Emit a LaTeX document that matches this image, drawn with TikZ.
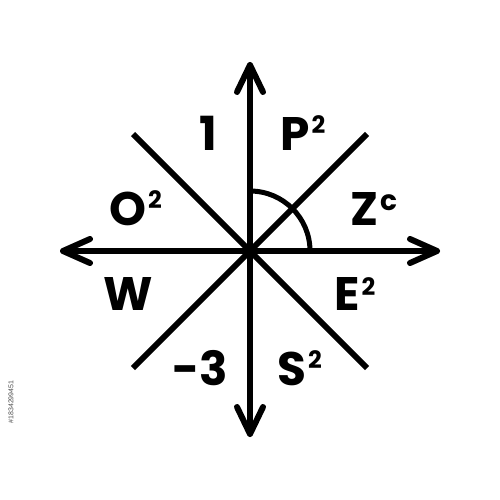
\documentclass[tikz,border=0pt]{standalone}
\usepackage{fontspec}
\setmainfont{Poppins}
\newfontfamily\idfont{Liberation Sans}
\newcommand{\supx}[2]{\raisebox{#2}{\fontsize{24}{24}\selectfont #1}}
\begin{document}
\begin{tikzpicture}[x=1pt,y=-1pt,
  axis/.style={line width=6pt, line cap=round, line join=round},
  diag/.style={line width=6pt},
  lab/.style={inner sep=0pt, anchor=base west, font=\fontsize{47}{47}\selectfont\bfseries}]
\useasboundingbox (0,0) rectangle (500,500);
\fill[white] (0,0) rectangle (500,500);
\coordinate (c) at (250,251);
\coordinate (n) at (250,65);
\coordinate (s) at (250,434);
\coordinate (w) at (63,251);
\coordinate (e) at (437,251);
\coordinate (nw) at (133,134);
\coordinate (se) at (367,368);
\coordinate (ne) at (367,134);
\coordinate (sw) at (133,368);
% axes
\draw[axis] (s) -- (n);
\draw[axis] (w) -- (e);
% arrowheads
\draw[axis] ([xshift=-13pt,yshift=-27pt]n) -- (n) -- ([xshift=13pt,yshift=-27pt]n);
\draw[axis] ([xshift=-13pt,yshift=27pt]s) -- (s) -- ([xshift=13pt,yshift=27pt]s);
\draw[axis] ([xshift=27pt,yshift=-12pt]w) -- (w) -- ([xshift=27pt,yshift=12pt]w);
\draw[axis] ([xshift=-27pt,yshift=-12pt]e) -- (e) -- ([xshift=-27pt,yshift=12pt]e);
% diagonals
\draw[diag] (nw) -- (se);
\draw[diag] (sw) -- (ne);
% angle arc
\draw[line width=5pt] ([xshift=60pt]c) arc[start angle=0, end angle=90, radius=60pt];
% labels
\node[lab] (l1) at (199,150) {1};
\node[lab] (lP) at (280,150) {P\kern2pt\supx{2}{17pt}};
\node[lab] (lO) at (109,225) {O\kern2pt\supx{2}{17pt}};
\node[lab] (lZ) at (350,225) {Z\kern2pt\raisebox{15pt}{\fontsize{28}{28}\selectfont c}};
\node[lab] (lW) at (103,310) {W};
\node[lab] (lE) at (334,310) {E\kern2pt\supx{2}{15pt}};
\node[lab] (lm3) at (172,385) {-3};
\node[lab] (lS) at (277,385) {S\kern2pt\supx{2}{17pt}};
\node[rotate=90, inner sep=0pt, text=black!70, font=\idfont\fontsize{7}{7}\selectfont] (id) at (11,402) {\#1834299451};
\end{tikzpicture}
\end{document}
